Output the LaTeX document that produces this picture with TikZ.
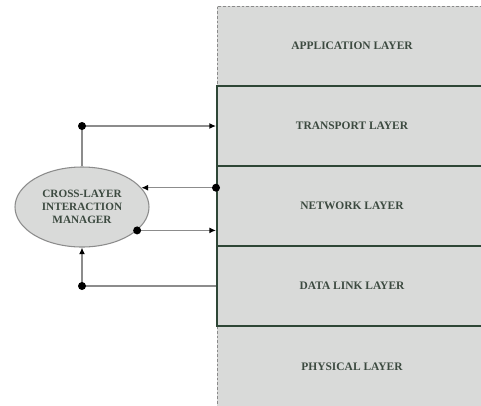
\documentclass[tikz,border=0pt]{standalone}
\usepackage{fontspec}
\setmainfont{Liberation Serif}
\usetikzlibrary{shapes.geometric,arrows.meta}
\definecolor{layerfill}{HTML}{D9DAD9}
\definecolor{layerline}{HTML}{2E4636}
\definecolor{txt}{HTML}{3C4A40}
\definecolor{conn}{HTML}{8C8C8C}
\definecolor{dashc}{HTML}{8A8A8A}
\tikzset{
  layer/.style={rectangle, fill=layerfill, minimum width=202.5pt, minimum height=60pt, inner sep=0pt,
    font=\fontsize{8.6}{10}\selectfont\bfseries, text=txt},
  corelayer/.style={layer, draw=layerline, line width=1.5pt},
  outerlayer/.style={layer, draw=dashc, dash pattern=on 2pt off 1.5pt, line width=0.7pt},
  mgr/.style={ellipse, fill=layerfill, draw=conn, line width=0.8pt, minimum width=100.5pt, minimum height=60pt,
    inner sep=0pt, align=center, font=\fontsize{8.4}{10}\selectfont\bfseries, text=txt},
  link/.style={draw=conn, line width=1.1pt},
  arr/.style={link, -{Latex[length=5pt,width=4.5pt,color=black]}},
  dot/.style={fill=black}
}
\begin{document}
\begin{tikzpicture}[x=0.75pt,y=-0.75pt]
\useasboundingbox (0,0) rectangle (481,405);
\node[outerlayer] (app) at (352,46) {APPLICATION LAYER};
\node[outerlayer, minimum height=63pt] (phys) at (352,367) {PHYSICAL LAYER};
\node[corelayer] (trans) at (352,126) {TRANSPORT LAYER};
\node[corelayer] (net) at (352,206) {NETWORK LAYER};
\node[corelayer] (dl) at (352,286) {DATA LINK LAYER};
\node[mgr] (mgr) at (82,207) {CROSS-LAYER\\INTERACTION\\MANAGER};
% connector 1: manager -> transport
\coordinate (d1) at (mgr.north |- trans.west);
\draw[link] (mgr.north) -- (d1);
\draw[arr] (d1) -- (trans.west);
\fill[dot] (d1) circle (3pt);
% connector 2: network -> manager
\coordinate (d2) at (net.west |- mgr.18);
\draw[arr] (d2) -- (mgr.18);
\fill[dot] (d2) circle (3pt);
% connector 3: manager -> network
\coordinate (d3) at (mgr.-23);
\draw[arr] (d3) -- (d3 -| net.west);
\fill[dot] (d3) circle (3pt);
% connector 4: data link -> manager
\coordinate (d4) at (mgr.south |- dl.west);
\draw[link] (d4) -- (dl.west);
\draw[arr] (d4) -- (mgr.south);
\fill[dot] (d4) circle (3pt);
\end{tikzpicture}
\end{document}
